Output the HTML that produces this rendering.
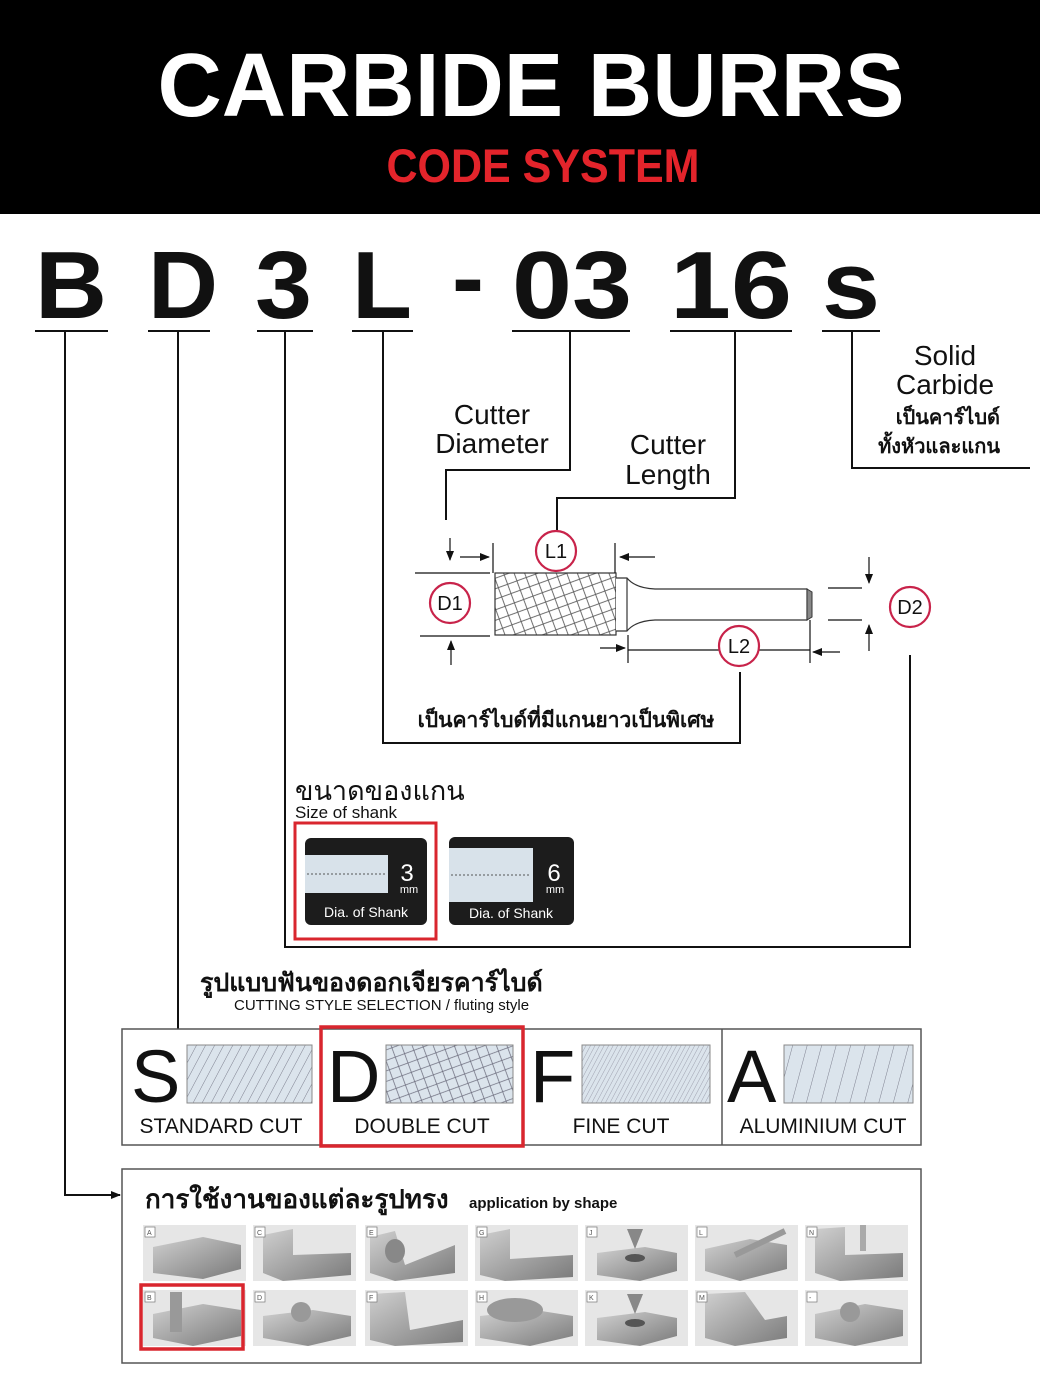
<!DOCTYPE html>
<html><head><meta charset="utf-8"><style>
html,body{margin:0;padding:0;background:#fff}
svg{display:block}
text{font-family:"Liberation Sans",sans-serif}
</style></head><body>
<svg width="1040" height="1387" viewBox="0 0 1040 1387" xmlns="http://www.w3.org/2000/svg">
<defs>
<pattern id="dbl" width="14" height="14" patternUnits="userSpaceOnUse" patternTransform="rotate(25)">
<rect width="14" height="14" fill="#fff"/>
<path d="M0 0L14 14M14 0L0 14" stroke="#555" stroke-width="0.8"/>
</pattern>
<pattern id="dblb" width="14" height="14" patternUnits="userSpaceOnUse" patternTransform="rotate(25)">
<rect width="14" height="14" fill="#dbe4ec"/>
<path d="M0 0L14 14M14 0L0 14" stroke="#667" stroke-width="0.7"/>
</pattern>
<pattern id="std" width="8" height="8" patternUnits="userSpaceOnUse" patternTransform="rotate(-62)">
<rect width="8" height="8" fill="#dbe4ec"/>
<path d="M0 0H8" stroke="#667" stroke-width="0.8"/>
</pattern>
<pattern id="fine" width="4" height="4" patternUnits="userSpaceOnUse" patternTransform="rotate(-62)">
<rect width="4" height="4" fill="#dbe4ec"/>
<path d="M0 0H4" stroke="#778" stroke-width="0.6"/>
</pattern>
<pattern id="alu" width="14" height="14" patternUnits="userSpaceOnUse" patternTransform="rotate(-75)">
<rect width="14" height="14" fill="#dbe4ec"/>
<path d="M0 0H14" stroke="#667" stroke-width="0.8"/>
</pattern>
<linearGradient id="blk" x1="0" y1="0" x2="1" y2="1"><stop offset="0" stop-color="#cfcfcf"/><stop offset="1" stop-color="#7a7a7a"/></linearGradient>
<marker id="ar" markerWidth="10" markerHeight="8" refX="9" refY="4" orient="auto" markerUnits="userSpaceOnUse"><path d="M0 0L10 4L0 8z" fill="#111"/></marker>
</defs>

<rect x="0" y="0" width="1040" height="214" fill="#000"/>
<text x="531" y="116" text-anchor="middle" fill="#fff" font-size="90" font-weight="bold" textLength="747" lengthAdjust="spacingAndGlyphs">CARBIDE BURRS</text>
<text x="543" y="182" text-anchor="middle" fill="#e3242b" font-size="47" font-weight="bold" textLength="313" lengthAdjust="spacingAndGlyphs">CODE SYSTEM</text>

<g font-size="96" font-weight="bold" fill="#111">
<text x="35" y="318" textLength="72" lengthAdjust="spacingAndGlyphs">B</text>
<text x="148" y="318" textLength="70" lengthAdjust="spacingAndGlyphs">D</text>
<text x="255" y="318" textLength="57" lengthAdjust="spacingAndGlyphs">3</text>
<text x="352" y="318" textLength="60" lengthAdjust="spacingAndGlyphs">L</text>
<text x="468" y="310" text-anchor="middle">-</text>
<text x="512" y="318" textLength="120" lengthAdjust="spacingAndGlyphs">03</text>
<text x="670" y="318" textLength="122" lengthAdjust="spacingAndGlyphs">16</text>
<text x="822" y="318" textLength="58" lengthAdjust="spacingAndGlyphs">s</text>
</g>
<g stroke="#111" stroke-width="2" fill="none">
<path d="M35 331H108M148 331H210M257 331H313M352 331H413M512 331H630M670 331H792M822 331H880"/>
<path d="M65 331V1195H120" marker-end="url(#ar)"/>
<path d="M178 331V1030"/>
<path d="M285 331V947H910V655"/>
<path d="M383 331V743H740V672"/>
<path d="M570 331V470H446V520"/>
<path d="M735 331V498H557V531"/>
<path d="M852 331V468H1030"/>
</g>

<g font-size="28" fill="#111" text-anchor="middle">
<text x="492" y="424">Cutter</text><text x="492" y="453">Diameter</text>
<text x="668" y="454">Cutter</text><text x="668" y="484">Length</text>
<text x="945" y="365">Solid</text><text x="945" y="394">Carbide</text>
</g>
<g font-size="20" font-weight="bold" fill="#111" text-anchor="end">
<text x="1000" y="424">เป็นคาร์ไบด์</text><text x="1000" y="453">ทั้งหัวและแกน</text>
</g>

<!-- burr -->
<rect x="495" y="573" width="121" height="62" fill="url(#dbl)" stroke="#333" stroke-width="1.2"/>
<path d="M616 578H627Q635 588 655 589H807V620H655Q635 621 627 631H616" fill="#fff" stroke="#333" stroke-width="1.2"/>
<path d="M627 578V631" stroke="#333" stroke-width="1.2"/>
<path d="M807 589L812 592V617L807 620z" fill="#888" stroke="#333"/>
<g stroke="#111" stroke-width="1.2" fill="none">
<path d="M415 573H490M420 636H490"/>
<path d="M450 538V560" marker-end="url(#ar)"/>
<path d="M451 665V641" marker-end="url(#ar)"/>
<path d="M460 557H489" marker-end="url(#ar)"/>
<path d="M493 543V573M615 543V573"/>
<path d="M655 557H620" marker-end="url(#ar)"/>
<path d="M828 588H862M828 620H862"/>
<path d="M869 557V583" marker-end="url(#ar)"/>
<path d="M869 651V625" marker-end="url(#ar)"/>
<path d="M628 650H810M628 635V663M810 620V663"/>
<path d="M600 648H625" marker-end="url(#ar)"/>
<path d="M840 652H813" marker-end="url(#ar)"/>
</g>
<g stroke="#c8234a" stroke-width="2.2" fill="#fff">
<circle cx="556" cy="551" r="20"/><circle cx="450" cy="603" r="20"/>
<circle cx="910" cy="607" r="20"/><circle cx="739" cy="646" r="20"/>
</g>
<g font-size="20" fill="#111" text-anchor="middle">
<text x="556" y="558">L1</text><text x="450" y="610">D1</text>
<text x="910" y="614">D2</text><text x="739" y="653">L2</text>
</g>
<text x="566" y="727" font-size="21" font-weight="bold" text-anchor="middle" fill="#111">เป็นคาร์ไบด์ที่มีแกนยาวเป็นพิเศษ</text>

<!-- shank -->
<text x="295" y="800" font-size="27" fill="#111">ขนาดของแกน</text>
<text x="295" y="818" font-size="17" fill="#111">Size of shank</text>
<rect x="295" y="823" width="141" height="116" fill="none" stroke="#d9262e" stroke-width="3"/>
<rect x="305" y="838" width="122" height="87" rx="6" fill="#1c1c1c"/>
<rect x="305" y="855" width="83" height="38" fill="#d8e2ea"/>
<path d="M307 874H386" stroke="#555" stroke-dasharray="2 2"/>
<text x="407" y="881" font-size="24" fill="#fff" text-anchor="middle">3</text>
<text x="409" y="893" font-size="11" fill="#fff" text-anchor="middle">mm</text>
<text x="366" y="917" font-size="14" fill="#fff" text-anchor="middle">Dia. of Shank</text>
<rect x="449" y="837" width="125" height="88" rx="6" fill="#1c1c1c"/>
<rect x="449" y="848" width="84" height="54" fill="#d8e2ea"/>
<path d="M451 875H531" stroke="#555" stroke-dasharray="2 2"/>
<text x="554" y="881" font-size="24" fill="#fff" text-anchor="middle">6</text>
<text x="555" y="893" font-size="11" fill="#fff" text-anchor="middle">mm</text>
<text x="511" y="918" font-size="14" fill="#fff" text-anchor="middle">Dia. of Shank</text>

<!-- cutting style -->
<text x="200" y="991" font-size="25" font-weight="bold" fill="#111">รูปแบบฟันของดอกเจียรคาร์ไบด์</text>
<text x="234" y="1010" font-size="15" fill="#111">CUTTING STYLE SELECTION  / fluting style</text>
<rect x="122" y="1029" width="799" height="116" fill="#fff" stroke="#555" stroke-width="1.5"/>
<path d="M722 1029V1145" stroke="#555" stroke-width="1.5"/>
<rect x="321" y="1027" width="202" height="119" fill="none" stroke="#d9262e" stroke-width="3.5"/>
<rect x="187" y="1045" width="125" height="58" fill="url(#std)" stroke="#888"/>
<rect x="386" y="1045" width="127" height="58" fill="url(#dblb)" stroke="#888"/>
<rect x="582" y="1045" width="128" height="58" fill="url(#fine)" stroke="#888"/>
<rect x="784" y="1045" width="129" height="58" fill="url(#alu)" stroke="#888"/>
<g font-size="74" fill="#111">
<text x="131" y="1102">S</text><text x="327" y="1102">D</text>
<text x="530" y="1102">F</text><text x="727" y="1102">A</text>
</g>
<g font-size="21" fill="#111" text-anchor="middle">
<text x="221" y="1133">STANDARD CUT</text><text x="422" y="1133">DOUBLE CUT</text>
<text x="621" y="1133">FINE CUT</text><text x="823" y="1133">ALUMINIUM CUT</text>
</g>

<!-- application -->
<rect x="122" y="1169" width="799" height="194" fill="#fff" stroke="#555" stroke-width="1.5"/>
<text x="145" y="1208" font-size="26" font-weight="bold" fill="#111">การใช้งานของแต่ละรูปทรง</text>
<text x="469" y="1208" font-size="15" font-weight="bold" fill="#111">application by shape</text>
<g id="tiles">
<g transform="translate(143,1225)"><rect width="103" height="56" fill="#e6e6e6"/><path d="M10 22L60 12L98 20V44L60 54L10 48z" fill="url(#blk)"/><rect x="2" y="2" width="10" height="10" fill="#fff" stroke="#777" stroke-width=".7"/><text x="4" y="10" font-size="7" fill="#555">A</text></g>
<g transform="translate(253,1225)"><rect width="103" height="56" fill="#e6e6e6"/><path d="M10 10L40 4V30L98 28V50L30 56L10 48z" fill="url(#blk)"/><rect x="2" y="2" width="10" height="10" fill="#fff" stroke="#777" stroke-width=".7"/><text x="4" y="10" font-size="7" fill="#555">C</text></g>
<g transform="translate(365,1225)"><rect width="103" height="56" fill="#e6e6e6"/><path d="M5 12L30 6L40 40L90 20V48L30 56L5 48z" fill="url(#blk)"/><ellipse cx="30" cy="26" rx="10" ry="12" fill="#888"/><rect x="2" y="2" width="10" height="10" fill="#fff" stroke="#777" stroke-width=".7"/><text x="4" y="10" font-size="7" fill="#555">E</text></g>
<g transform="translate(475,1225)"><rect width="103" height="56" fill="#e6e6e6"/><path d="M5 10L35 4V34L98 30V52L30 56L5 50z" fill="url(#blk)"/><rect x="2" y="2" width="10" height="10" fill="#fff" stroke="#777" stroke-width=".7"/><text x="4" y="10" font-size="7" fill="#555">G</text></g>
<g transform="translate(585,1225)"><rect width="103" height="56" fill="#e6e6e6"/><path d="M12 28L60 22L92 28V46L55 56L12 50z" fill="url(#blk)"/><path d="M42 4H58L50 24z" fill="#888"/><ellipse cx="50" cy="33" rx="10" ry="4" fill="#555"/><rect x="2" y="2" width="10" height="10" fill="#fff" stroke="#777" stroke-width=".7"/><text x="4" y="10" font-size="7" fill="#555">J</text></g>
<g transform="translate(695,1225)"><rect width="103" height="56" fill="#e6e6e6"/><path d="M10 24L55 14L92 20V44L45 56L10 46z" fill="url(#blk)"/><path d="M40 30L90 6" stroke="#999" stroke-width="6"/><rect x="2" y="2" width="10" height="10" fill="#fff" stroke="#777" stroke-width=".7"/><text x="4" y="10" font-size="7" fill="#555">L</text></g>
<g transform="translate(805,1225)"><rect width="103" height="56" fill="#e6e6e6"/><path d="M10 4L40 2V30L98 28V52L35 56L10 48z" fill="url(#blk)"/><rect x="55" y="0" width="6" height="26" fill="#aaa"/><rect x="2" y="2" width="10" height="10" fill="#fff" stroke="#777" stroke-width=".7"/><text x="4" y="10" font-size="7" fill="#555">N</text></g>
<g transform="translate(143,1290)"><rect width="103" height="56" fill="#e6e6e6"/><path d="M10 24L60 14L98 20V46L50 56L10 48z" fill="url(#blk)"/><rect x="27" y="2" width="12" height="40" fill="#999"/><rect x="2" y="2" width="10" height="10" fill="#fff" stroke="#777" stroke-width=".7"/><text x="4" y="10" font-size="7" fill="#555">B</text></g>
<g transform="translate(253,1290)"><rect width="103" height="56" fill="#e6e6e6"/><path d="M10 26L60 20L98 26V46L55 56L10 48z" fill="url(#blk)"/><circle cx="48" cy="22" r="10" fill="#999"/><rect x="2" y="2" width="10" height="10" fill="#fff" stroke="#777" stroke-width=".7"/><text x="4" y="10" font-size="7" fill="#555">D</text></g>
<g transform="translate(365,1290)"><rect width="103" height="56" fill="#e6e6e6"/><path d="M5 4L40 2L45 40L98 30V52L30 56L5 50z" fill="url(#blk)"/><rect x="2" y="2" width="10" height="10" fill="#fff" stroke="#777" stroke-width=".7"/><text x="4" y="10" font-size="7" fill="#555">F</text></g>
<g transform="translate(475,1290)"><rect width="103" height="56" fill="#e6e6e6"/><path d="M5 26L60 20L98 26V46L55 56L5 48z" fill="url(#blk)"/><ellipse cx="40" cy="20" rx="28" ry="12" fill="#999"/><rect x="2" y="2" width="10" height="10" fill="#fff" stroke="#777" stroke-width=".7"/><text x="4" y="10" font-size="7" fill="#555">H</text></g>
<g transform="translate(585,1290)"><rect width="103" height="56" fill="#e6e6e6"/><path d="M12 28L60 22L92 28V46L55 56L12 50z" fill="url(#blk)"/><path d="M42 4H58L50 24z" fill="#888"/><ellipse cx="50" cy="33" rx="10" ry="4" fill="#555"/><rect x="2" y="2" width="10" height="10" fill="#fff" stroke="#777" stroke-width=".7"/><text x="4" y="10" font-size="7" fill="#555">K</text></g>
<g transform="translate(695,1290)"><rect width="103" height="56" fill="#e6e6e6"/><path d="M10 4L50 2L70 30L92 26V48L40 56L10 48z" fill="url(#blk)"/><rect x="2" y="2" width="10" height="10" fill="#fff" stroke="#777" stroke-width=".7"/><text x="4" y="10" font-size="7" fill="#555">M</text></g>
<g transform="translate(805,1290)"><rect width="103" height="56" fill="#e6e6e6"/><path d="M10 24L60 14L98 20V46L50 56L10 48z" fill="url(#blk)"/><circle cx="45" cy="22" r="10" fill="#999"/><rect x="2" y="2" width="10" height="10" fill="#fff" stroke="#777" stroke-width=".7"/><text x="4" y="10" font-size="7" fill="#555">-</text></g>
</g>
<rect x="141" y="1285" width="102" height="64" fill="none" stroke="#d9262e" stroke-width="3.5"/>
</svg>
</body></html>
